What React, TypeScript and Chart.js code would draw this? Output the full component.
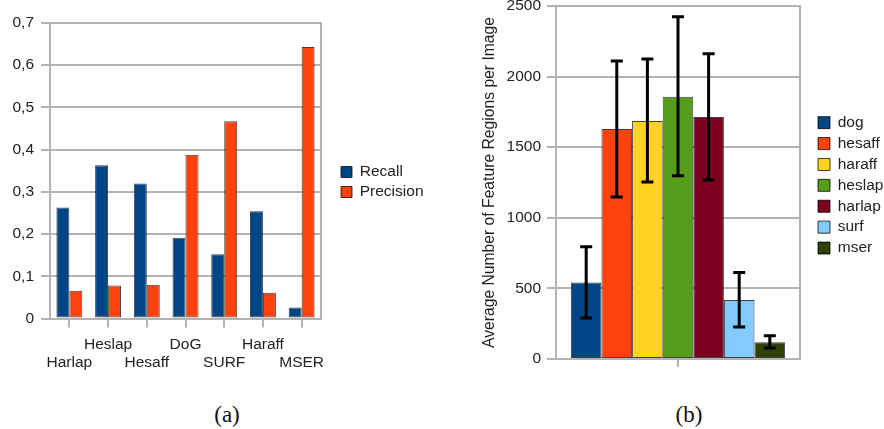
import React, { useEffect, useRef } from 'react';
import { Chart, registerables } from 'chart.js';

Chart.register(...registerables);

// ---------- data (a) ----------
const detectorsA = ['Harlap', 'Heslap', 'Hesaff', 'DoG', 'SURF', 'Haraff', 'MSER'];
const recallValues = [0.263, 0.363, 0.32, 0.191, 0.152, 0.254, 0.026];
const precisionValues = [0.066, 0.078, 0.08, 0.388, 0.467, 0.061, 0.643];
const seriesNamesA = ['Recall', 'Precision'];
const yMinA = 0;
const yMaxA = 0.7;
const yStepA = 0.1;

// ---------- data (b) ----------
const detectorsB = ['dog', 'hesaff', 'haraff', 'heslap', 'harlap', 'surf', 'mser'];
const avgRegions = [542, 1629, 1685, 1858, 1714, 418, 118];
const errLow = [290, 1147, 1253, 1298, 1268, 227, 78];
const errHigh = [795, 2110, 2125, 2424, 2162, 613, 165];
const yMinB = 0;
const yMaxB = 2500;
const yStepB = 500;
const yTitleB = 'Average Number of Feature Regions per Image';

const captions = ['(a)', '(b)'];

// ---------- style ----------
const FONT = "'Liberation Sans', Arial, sans-serif";
const FS = 15.5;
const GRID = '#b3b3b3';
const TEXT = '#222222';
const EDGE = 'rgba(0,0,0,0.75)';
const colorsA = ['#004586', '#ff420e'];
const colorsB = ['#004586', '#ff420e', '#ffd320', '#579d1c', '#7e0021', '#83caff', '#314004'];

const legendPlace = {
  id: 'legendPlace',
  afterLayout(chart: any, _args: any, opts: any) {
    const lg = chart.legend;
    if (!lg || !opts || opts.left == null) return;
    const w = lg.width;
    const h = lg.height;
    lg.left = opts.left;
    lg.right = opts.left + w;
    lg.top = opts.top;
    lg.bottom = opts.top + h;
  },
};

const errorBars = {
  id: 'errorBars',
  afterDatasetsDraw(chart: any) {
    const ctx = chart.ctx;
    const ys = chart.scales.y;
    ctx.save();
    ctx.strokeStyle = '#000000';
    ctx.lineWidth = 3;
    chart.data.datasets.forEach((ds: any, i: number) => {
      if (!ds.errLow) return;
      const meta = chart.getDatasetMeta(i);
      meta.data.forEach((bar: any, j: number) => {
        const x = bar.x;
        const yh = ys.getPixelForValue(ds.errHigh[j]);
        const yl = ys.getPixelForValue(ds.errLow[j]);
        ctx.beginPath();
        ctx.moveTo(x, yh);
        ctx.lineTo(x, yl);
        ctx.moveTo(x - 6, yh);
        ctx.lineTo(x + 6, yh);
        ctx.moveTo(x - 6, yl);
        ctx.lineTo(x + 6, yl);
        ctx.stroke();
      });
    });
    ctx.restore();
  },
};

function rightBorder() {
  return {
    position: 'right',
    display: true,
    grid: { drawOnChartArea: false, drawTicks: false },
    ticks: { display: false },
    border: { display: true, color: GRID, width: 2 },
    afterFit(s: any) {
      s.width = 0;
      s.paddingTop = 0;
      s.paddingBottom = 0;
    },
  };
}

function ChartA() {
  const ref = useRef<HTMLCanvasElement>(null);
  useEffect(() => {
    const chart = new Chart(ref.current as HTMLCanvasElement, {
      type: 'bar',
      data: {
        labels: detectorsA,
        datasets: [
          { label: seriesNamesA[0], data: recallValues, backgroundColor: colorsA[0], borderColor: EDGE, borderWidth: 1, borderSkipped: false },
          { label: seriesNamesA[1], data: precisionValues, backgroundColor: colorsA[1], borderColor: EDGE, borderWidth: 1, borderSkipped: false },
        ],
      },
      plugins: [legendPlace],
      options: {
        responsive: false,
        animation: false,
        devicePixelRatio: 1,
        layout: { padding: { left: 0, top: 23, right: 119, bottom: 0 } },
        datasets: { bar: { categoryPercentage: 0.67, barPercentage: 1 } },
        plugins: {
          legend: {
            position: 'chartArea',
            align: 'start',
            labels: {
              boxWidth: 11,
              boxHeight: 11,
              padding: 4.5,
              color: TEXT,
              font: { family: FONT, size: FS },
            },
          },
          legendPlace: { left: 336.5, top: 159.75 },
          tooltip: { enabled: false },
        },
        scales: {
          x: {
            grid: { drawOnChartArea: false, offset: false, tickLength: 9, color: GRID, lineWidth: 2 },
            border: { display: true, color: GRID, width: 2 },
            ticks: {
              color: TEXT,
              font: { family: FONT, size: FS, lineHeight: 1.16 },
              padding: 8,
              autoSkip: false,
              maxRotation: 0,
              minRotation: 0,
              callback: (_v: any, i: number) => (i % 2 === 0 ? ['', detectorsA[i]] : [detectorsA[i]]),
            },
            afterFit(s: any) {
              s.height = 66.5;
            },
          },
          y: {
            min: yMinA,
            max: yMaxA,
            ticks: {
              stepSize: yStepA,
              color: TEXT,
              font: { family: FONT, size: FS },
              padding: 7,
              callback: (v: any) => (Number(v) === 0 ? '0' : Number(v).toFixed(1).replace('.', ',')),
            },
            grid: { color: GRID, lineWidth: 2, tickLength: 9 },
            border: { display: true, color: GRID, width: 2 },
            afterFit(s: any) {
              s.width = 50;
              s.paddingTop = 0;
              s.paddingBottom = 0;
            },
          },
          y2: rightBorder(),
        },
      } as any,
    } as any);
    return () => chart.destroy();
  }, []);
  return <canvas ref={ref} width={440} height={385} style={{ position: 'absolute', left: 0, top: 0 }} />;
}

function ChartB() {
  const ref = useRef<HTMLCanvasElement>(null);
  useEffect(() => {
    const titleSize = 15.7;
    const chart = new Chart(ref.current as HTMLCanvasElement, {
      type: 'bar',
      data: {
        labels: [''],
        datasets: detectorsB.map((name, i) => ({
          label: name,
          data: [avgRegions[i]],
          errLow: [errLow[i]],
          errHigh: [errHigh[i]],
          backgroundColor: colorsB[i],
          borderColor: EDGE,
          borderWidth: 1,
          borderSkipped: false,
        })),
      },
      plugins: [legendPlace, errorBars],
      options: {
        responsive: false,
        animation: false,
        devicePixelRatio: 1,
        layout: { padding: { left: 0, top: 6, right: 84, bottom: 0 } },
        datasets: { bar: { categoryPercentage: 0.878, barPercentage: 1 } },
        plugins: {
          legend: {
            position: 'chartArea',
            align: 'start',
            labels: {
              boxWidth: 12,
              boxHeight: 12,
              padding: 5.4,
              color: TEXT,
              font: { family: FONT, size: FS },
            },
          },
          legendPlace: { left: 372.6, top: 109.5 },
          tooltip: { enabled: false },
        },
        scales: {
          x: {
            grid: { drawOnChartArea: false, offset: false, tickLength: 8, color: GRID, lineWidth: 2 },
            border: { display: true, color: GRID, width: 2 },
            ticks: { color: TEXT, font: { family: FONT, size: FS } },
            afterFit(s: any) {
              s.height = 26;
            },
          },
          y: {
            min: yMinB,
            max: yMaxB,
            ticks: {
              stepSize: yStepB,
              color: TEXT,
              font: { family: FONT, size: FS },
              padding: 6,
              callback: (v: any) => String(Number(v)),
            },
            grid: { color: GRID, lineWidth: 2, tickLength: 9 },
            border: { display: true, color: GRID, width: 2 },
            title: {
              display: true,
              text: yTitleB,
              color: TEXT,
              font: { family: FONT, size: titleSize },
              padding: { top: 50 - (titleSize * 1.2) / 2, bottom: 0 },
            },
            afterFit(s: any) {
              s.width = 116;
              s.paddingTop = 0;
              s.paddingBottom = 0;
            },
          },
          y2: rightBorder(),
        },
      } as any,
    } as any);
    return () => chart.destroy();
  }, []);
  return <canvas ref={ref} width={444} height={385} style={{ position: 'absolute', left: 440, top: 0 }} />;
}

const captionStyle: React.CSSProperties = {
  position: 'absolute',
  top: 402,
  width: 80,
  textAlign: 'center',
  fontFamily: "'Liberation Serif', 'DejaVu Serif', serif",
  fontSize: 23,
  lineHeight: '26px',
  color: '#111',
};

export default function App() {
  return (
    <div style={{ position: 'absolute', left: 0, top: 0, width: 884, height: 429, background: '#ffffff', overflow: 'hidden' }}>
      <ChartA />
      <ChartB />
      <div style={{ ...captionStyle, left: 227 - 40 }}>{captions[0]}</div>
      <div style={{ ...captionStyle, left: 689 - 40 }}>{captions[1]}</div>
    </div>
  );
}
